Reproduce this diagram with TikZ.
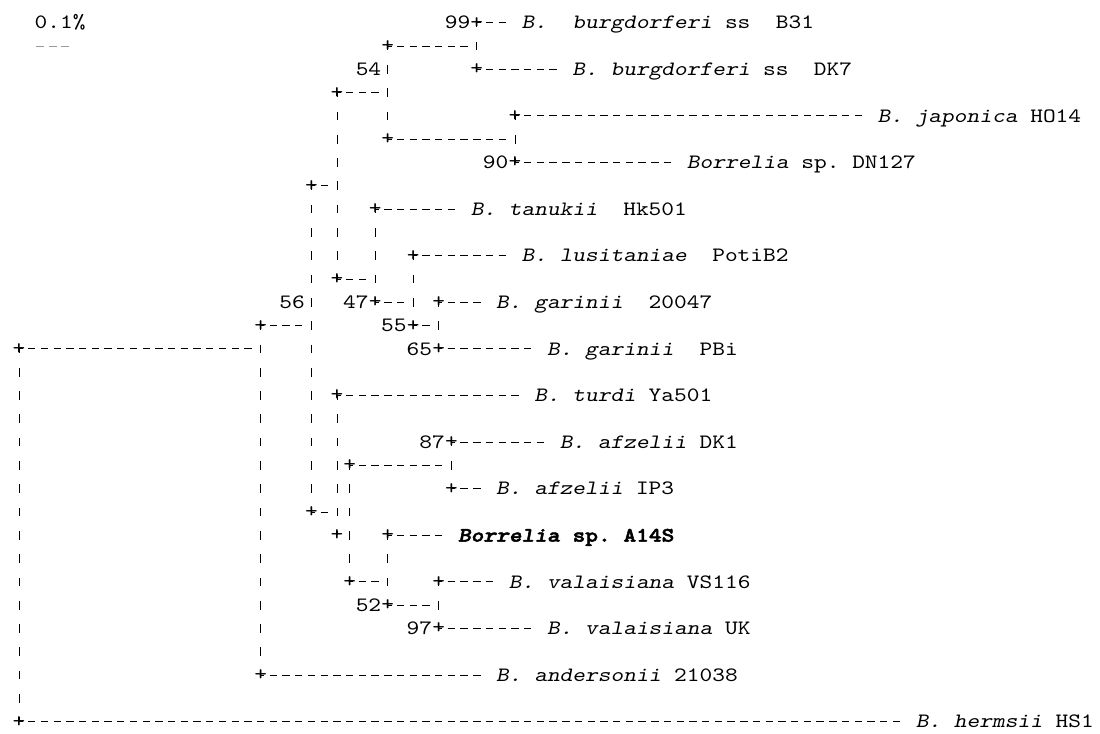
\documentclass[tikz,border=0pt]{standalone}
\usepackage{fontspec}
\newfontfamily\treefam{lmmono10-regular.otf}[FakeStretch=1.187,
  BoldFont=lmmonolt10-bold.otf, ItalicFont=lmmonoslant10-regular.otf,
  BoldItalicFont=lmmonolt10-boldoblique.otf,
  BoldFeatures={FakeBold=2.5}, BoldItalicFeatures={FakeBold=2.5}]
\newcommand{\treefont}{\treefam\frenchspacing\fontsize{15.3pt}{19pt}\selectfont}

\begin{document}
\begin{tikzpicture}[x=9.536pt, y=-17.475pt,
  plus/.style={inner sep=0pt, font=\treefont},
  num/.style={anchor=base east, inner sep=0pt, font=\treefont, yshift=-4.7pt},
  taxon/.style={anchor=base west, inner sep=0pt, font=\treefont, yshift=-4.7pt},
  hbr/.style={line width=0.7pt, dash pattern=on 5.5pt off 4.036pt, dash phase=2.75pt},
  vbr/.style={line width=0.7pt, dash pattern=on 6.5pt off 10.975pt, dash phase=3.25pt},
  tovert/.style={hbr, shorten >=4.8pt},
  toleaf/.style={hbr, shorten >=9.54pt}]
\useasboundingbox (-1.502,-0.974) rectangle (85.01,30.485);
% scale bar
\node[taxon] (scl) at (1.2,0) {0.1\%};
\coordinate (sb1) at (1.33,1); \coordinate (sb2) at (3.96,1);
\draw[line width=0.6pt, black!40, dash pattern=on 6pt off 3.536pt] (sb1) -- (sb2);
% branch points
\node[plus] (pB31) at (36,0) {+};   \node[plus] (pDK7) at (36,2) {+};
\node[plus] (q1) at (29,1) {+};     \node[plus] (q5) at (29,5) {+};
\node[plus] (q3) at (25,3) {+};
\node[plus] (pHO14) at (39,4) {+};  \node[plus] (pDN127) at (39,6) {+};
\node[plus] (q7) at (23,7) {+};
\node[plus] (pHk501) at (28,8) {+}; \node[plus] (q12) at (28,12) {+};
\node[plus] (pPotiB2) at (31,10) {+}; \node[plus] (q13b) at (31,13) {+};
\node[plus] (q11) at (25,11) {+};
\node[plus] (pG20047) at (33,12) {+}; \node[plus] (pPBi) at (33,14) {+};
\node[plus] (q13a) at (19,13) {+};  \node[plus] (pAnd) at (19,28) {+};
\node[plus] (root) at (0,14) {+};   \node[plus] (pHS1) at (0,30) {+};
\node[plus] (pYa501) at (25,16) {+}; \node[plus] (q22) at (25,22) {+};
\node[plus] (pDK1) at (34,18) {+};  \node[plus] (pIP3) at (34,20) {+};
\node[plus] (q19) at (26,19) {+};   \node[plus] (q24) at (26,24) {+};
\node[plus] (q21) at (23,21) {+};
\node[plus] (pA14S) at (29,22) {+}; \node[plus] (q25) at (29,25) {+};
\node[plus] (pVS116) at (33,24) {+}; \node[plus] (pUK) at (33,26) {+};
% bootstrap values
\node[num] (v99) at (35.5,0) {99};  \node[num] (v54) at (28.5,2) {54};
\node[num] (v90) at (38.5,6) {90};  \node[num] (v56) at (22.5,12) {56};
\node[num] (v47) at (27.5,12) {47}; \node[num] (v55) at (30.5,13) {55};
\node[num] (v65) at (32.5,14) {65}; \node[num] (v87) at (33.5,18) {87};
\node[num] (v52) at (28.5,25) {52}; \node[num] (v97) at (32.5,26) {97};
% taxa
\node[taxon] (tB31) at (39.5,0) {\textit{B.}~~\textit{burgdorferi} ss~~B31};
\node[taxon] (tDK7) at (43.5,2) {\textit{B. burgdorferi} ss~~DK7};
\node[taxon] (tHO14) at (67.5,4) {\textit{B. japonica} HO14};
\node[taxon] (tDN127) at (52.5,6) {\textit{Borrelia} sp. DN127};
\node[taxon] (tHk501) at (35.5,8) {\textit{B. tanukii}~~Hk501};
\node[taxon] (tPotiB2) at (39.5,10) {\textit{B. lusitaniae}~~PotiB2};
\node[taxon] (tG20047) at (37.5,12) {\textit{B. garinii}~~20047};
\node[taxon] (tPBi) at (41.5,14) {\textit{B. garinii}~~PBi};
\node[taxon] (tYa501) at (40.5,16) {\textit{B. turdi} Ya501};
\node[taxon] (tDK1) at (42.5,18) {\textit{B. afzelii} DK1};
\node[taxon] (tIP3) at (37.5,20) {\textit{B. afzelii} IP3};
\node[taxon] (tA14S) at (34.5,22) {\textbf{\textit{Borrelia} sp. A14S}};
\node[taxon] (tVS116) at (38.5,24) {\textit{B. valaisiana} VS116};
\node[taxon] (tUK) at (41.5,26) {\textit{B. valaisiana} UK};
\node[taxon] (tAnd) at (37.5,28) {\textit{B. andersonii} 21038};
\node[taxon] (tHS1) at (70.5,30) {\textit{B. hermsii} HS1};
% vertical lines
\draw[vbr] (pB31.center) -- (pDK7.center);
\draw[vbr] (q1.center) -- (q5.center);
\draw[vbr] (pHO14.center) -- (pDN127.center);
\draw[vbr] (q3.center) -- (q11.center);
\draw[vbr] (pHk501.center) -- (q12.center);
\draw[vbr] (pPotiB2.center) -- (q13b.center);
\draw[vbr] (pG20047.center) -- (pPBi.center);
\draw[vbr] (q7.center) -- (q21.center);
\draw[vbr] (q13a.center) -- (pAnd.center);
\draw[vbr] (root.center) -- (pHS1.center);
\draw[vbr] (pYa501.center) -- (q22.center);
\draw[vbr] (q19.center) -- (q24.center);
\draw[vbr] (pDK1.center) -- (pIP3.center);
\draw[vbr] (pA14S.center) -- (q25.center);
\draw[vbr] (pVS116.center) -- (pUK.center);
% inner branches
\draw[tovert] (q1.center) -- (q1.center -| pB31.center);
\draw[tovert] (q3.center) -- (q3.center -| q1.center);
\draw[tovert] (q5.center) -- (q5.center -| pHO14.center);
\draw[tovert] (q7.center) -- (q7.center -| q3.center);
\draw[tovert] (q11.center) -- (q11.center -| pHk501.center);
\draw[tovert] (q12.center) -- (q12.center -| pPotiB2.center);
\draw[tovert] (q13b.center) -- (q13b.center -| pG20047.center);
\draw[tovert] (q13a.center) -- (q13a.center -| q7.center);
\draw[tovert] (root.center) -- (root.center -| q13a.center);
\draw[tovert] (q21.center) -- (q21.center -| pYa501.center);
\draw[tovert] (q19.center) -- (q19.center -| pDK1.center);
\draw[tovert] (q24.center) -- (q24.center -| pA14S.center);
\draw[tovert] (q25.center) -- (q25.center -| pVS116.center);
% leaf branches
\draw[toleaf] (pB31.center) -- (pB31.center -| tB31.west);
\draw[toleaf] (pDK7.center) -- (pDK7.center -| tDK7.west);
\draw[toleaf] (pHO14.center) -- (pHO14.center -| tHO14.west);
\draw[toleaf] (pDN127.center) -- (pDN127.center -| tDN127.west);
\draw[toleaf] (pHk501.center) -- (pHk501.center -| tHk501.west);
\draw[toleaf] (pPotiB2.center) -- (pPotiB2.center -| tPotiB2.west);
\draw[toleaf] (pG20047.center) -- (pG20047.center -| tG20047.west);
\draw[toleaf] (pPBi.center) -- (pPBi.center -| tPBi.west);
\draw[toleaf] (pYa501.center) -- (pYa501.center -| tYa501.west);
\draw[toleaf] (pDK1.center) -- (pDK1.center -| tDK1.west);
\draw[toleaf] (pIP3.center) -- (pIP3.center -| tIP3.west);
\draw[toleaf] (pA14S.center) -- (pA14S.center -| tA14S.west);
\draw[toleaf] (pVS116.center) -- (pVS116.center -| tVS116.west);
\draw[toleaf] (pUK.center) -- (pUK.center -| tUK.west);
\draw[toleaf] (pAnd.center) -- (pAnd.center -| tAnd.west);
\draw[toleaf] (pHS1.center) -- (pHS1.center -| tHS1.west);
\end{tikzpicture}
\end{document}
